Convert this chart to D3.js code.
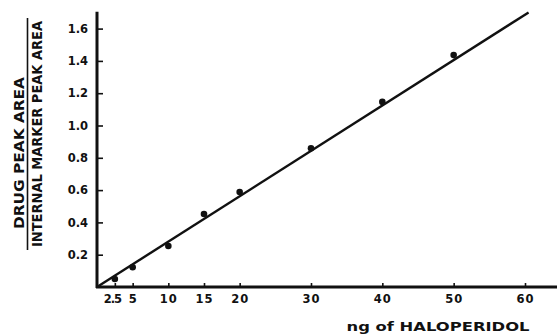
<!DOCTYPE html>
<html>
<head>
<meta charset="utf-8">
<script src="https://cdn.jsdelivr.net/npm/d3@7"></script>
<style>
  body { margin: 0; background: #fff; }
  svg { display: block; }
  text { font-family: "DejaVu Sans", "Liberation Sans", Arial, sans-serif; font-weight: bold; fill: #111; }
</style>
</head>
<body>
<div id="chart"></div>
<script>
// calibration data: ng of haloperidol vs peak area ratio
const amounts = [2.5, 5, 10, 15, 20, 30, 40, 50];
const ratios = [0.05, 0.122, 0.254, 0.452, 0.588, 0.859, 1.146, 1.436];
const xTicks = [2.5, 5, 10, 15, 20, 30, 40, 50, 60];
const xTickLabels = ["2.5", "5", "10", "15", "20", "30", "40", "50", "60"];
const yTicks = [0.2, 0.4, 0.6, 0.8, 1.0, 1.2, 1.4, 1.6];
const yTickLabels = ["0.2", "0.4", "0.6", "0.8", "1.0", "1.2", "1.4", "1.6"];
// fitted regression line end points
const fitX = [0, 60.5];
const fitY = [0, 1.70];

const width = 557, height = 334;
const fontFam = "DejaVu Sans, Liberation Sans, Arial, sans-serif";

const x = d3.scaleLinear().domain([0, 60]).range([97, 525]);
const y = d3.scaleLinear().domain([0, 1.6]).range([287, 28.6]);

const svg = d3.select("#chart").append("svg")
    .attr("width", width)
    .attr("height", height);

// axes lines (drawn by hand so they can run past the last tick)
svg.append("line")
    .attr("x1", x(0) - 1).attr("x2", x(64.8))
    .attr("y1", y(0)).attr("y2", y(0))
    .attr("stroke", "#111").attr("stroke-width", 3);
svg.append("line")
    .attr("x1", x(0)).attr("x2", x(0))
    .attr("y1", y(0) + 1).attr("y2", y(1.705))
    .attr("stroke", "#111").attr("stroke-width", 3);

const xAxis = d3.axisBottom(x)
    .tickValues(xTicks)
    .tickFormat((d, i) => xTickLabels[i])
    .tickSize(-4)
    .tickPadding(8);

const gx = svg.append("g")
    .attr("transform", `translate(0,${y(0)})`)
    .call(xAxis);
gx.select(".domain").remove();
gx.selectAll(".tick line").attr("stroke", "#111").attr("stroke-width", 1.6);
gx.selectAll(".tick text")
    .attr("font-size", 11.5)
    .attr("font-family", fontFam)
    .attr("font-weight", "bold")
    .attr("fill", "#111")
    .attr("letter-spacing", d => d === 2.5 ? -1 : 1)
    .attr("dx", d => d === 2.5 ? -3 : 0);

const yAxis = d3.axisLeft(y)
    .tickValues(yTicks)
    .tickFormat((d, i) => yTickLabels[i])
    .tickSize(-6)
    .tickPadding(9);

const gy = svg.append("g")
    .attr("transform", `translate(${x(0)},0)`)
    .call(yAxis);
gy.select(".domain").remove();
gy.selectAll(".tick line").attr("stroke", "#111").attr("stroke-width", 1.6);
gy.selectAll(".tick text")
    .attr("font-size", 11.5)
    .attr("font-family", fontFam)
    .attr("font-weight", "bold")
    .attr("fill", "#111");

// regression line
svg.append("path")
    .datum(fitX.map((d, i) => [d, fitY[i]]))
    .attr("fill", "none")
    .attr("stroke", "#111")
    .attr("stroke-width", 2.4)
    .attr("d", d3.line().x(d => x(d[0])).y(d => y(d[1])));

// measured points
svg.append("g")
    .selectAll("circle")
    .data(amounts)
    .join("circle")
    .attr("cx", d => x(d))
    .attr("cy", (d, i) => y(ratios[i]))
    .attr("r", 3.3)
    .attr("fill", "#111");

// y axis title as a fraction
const yt = svg.append("g").attr("transform", "translate(0,134) rotate(-90)");
yt.append("text")
    .attr("x", -19).attr("y", 24)
    .attr("text-anchor", "middle")
    .attr("font-size", 14)
    .attr("textLength", 152)
    .attr("lengthAdjust", "spacingAndGlyphs")
    .text("DRUG PEAK AREA");
yt.append("line")
    .attr("x1", -116).attr("x2", 116)
    .attr("y1", 27.5).attr("y2", 27.5)
    .attr("stroke", "#111").attr("stroke-width", 1.6);
yt.append("text")
    .attr("x", 0).attr("y", 42)
    .attr("text-anchor", "middle")
    .attr("font-size", 14)
    .attr("textLength", 226)
    .attr("lengthAdjust", "spacingAndGlyphs")
    .text("INTERNAL MARKER PEAK AREA");

// x axis title
svg.append("text")
    .attr("x", 438).attr("y", 331)
    .attr("text-anchor", "middle")
    .attr("font-size", 12.5)
    .attr("textLength", 183)
    .attr("lengthAdjust", "spacingAndGlyphs")
    .text("ng of HALOPERIDOL");
</script>
</body>
</html>
